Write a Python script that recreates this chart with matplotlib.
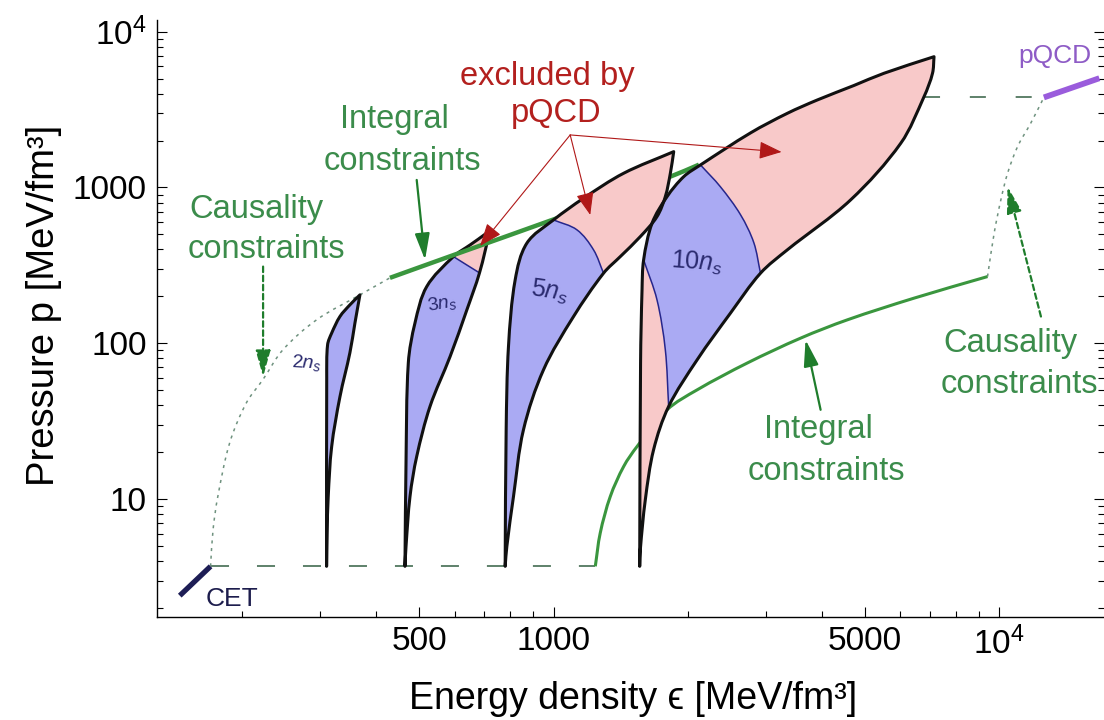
import numpy as np
import matplotlib
matplotlib.use("Agg")
import matplotlib.pyplot as plt
from matplotlib.patches import ArrowStyle, PathPatch
from matplotlib.path import Path
from matplotlib.ticker import FixedLocator, FixedFormatter, NullFormatter

plt.rcParams['font.family'] = ['Liberation Sans', 'DejaVu Sans']
plt.rcParams['mathtext.fontset'] = 'custom'
plt.rcParams['mathtext.rm'] = 'Liberation Sans'
plt.rcParams['mathtext.it'] = 'Liberation Sans:italic'
plt.rcParams['mathtext.bf'] = 'Liberation Sans:bold'

# ---------------- data (energy density eps, pressure p in MeV/fm^3) ----------------
cet_eps = [145, 170]
cet_p = [2.4, 3.7]
pqcd_eps = [12600, 16780]
pqcd_p = [3780, 5020]

# matching pressures carried across the intermediate region
low_dash_eps = [170, 1241]
low_dash_p = [3.7, 3.7]
high_dash_eps = [6783, 12600]
high_dash_p = [3800, 3800]

# causality bounds
caus_lo_eps = [170, 172.2, 176.4, 187.7, 204.6, 222.7, 247.0, 294.0, 367.8, 429.5]
caus_lo_p = [3.7, 6.35, 10.3, 23.0, 41.5, 58.3, 90.7, 141.3, 204.4, 262.8]
caus_hi_eps = [9417, 9745, 10088, 10445, 10998, 11780, 12600]
caus_hi_p = [267.8, 508.4, 831.6, 1233, 1827, 2593, 3780]

# integral constraints
int_up_eps = [429.5, 596.3, 1000, 1829, 2120]
int_up_p = [262.8, 368, 623, 1173, 1400]
int_lo_eps = [1241, 1273, 1341, 1437, 1540, 1798, 2100, 2720, 3584, 4564, 6442, 9417]
int_lo_p = [3.7, 6.05, 10.39, 16.19, 21.75, 37.4, 50.2, 74.6, 107.8, 141.3, 194.7, 267.8]

# allowed regions at fixed baryon density (left / right boundaries, base -> tip)
n2_left_eps = [309.6, 309.8, 311.2, 317.8, 331.7, 349.2, 367.8]
n2_left_p = [3.7, 60, 97.7, 116.1, 148.4, 176.3, 204.4]
n2_right_eps = [309.6, 310.4, 312.2, 317.8, 331.7, 349.2, 358.4, 367.8]
n2_right_p = [3.7, 6.0, 10.35, 21.65, 45.3, 86.8, 134.6, 204.4]

n3_left_eps = [464.2, 466.7, 472.3, 488.9, 519.4, 596.3, 650.1, 708.8, 720.9]
n3_left_p = [3.7, 17.09, 74.9, 135.2, 231.0, 359.8, 427.8, 510.8, 534]
n3_right_eps = [464.2, 466.7, 476.4, 493.2, 528.3, 586.1, 639.1, 682.2, 720.9]
n3_right_p = [3.7, 4.97, 10.39, 18.76, 39.3, 82.2, 163.8, 282.9, 534]
n3_cut_eps = [596.3, 637.6, 682.2]
n3_cut_p = [359.8, 319, 282.9]

n5_left_eps = [779, 783, 792.4, 820.3, 871.3, 1000, 1168, 1437, 1861]
n5_left_p = [3.7, 27.8, 95.2, 255.1, 438.6, 618.6, 852.4, 1233, 1697]
n5_right_eps = [779, 785.8, 813.2, 856.1, 949.5, 1109, 1295, 1412, 1566, 1707, 1782, 1829, 1861]
n5_right_p = [3.7, 4.97, 10.39, 27.8, 67.5, 148.4, 281.6, 359.8, 483.5, 649.6, 873, 1233, 1697]
n5_cut_eps = [1000, 1129, 1230, 1295]
n5_cut_p = [618.6, 534, 397.2, 281.6]

n10_left_eps = [1561, 1568, 1580, 1593, 1664, 1798, 1960, 2137, 2767, 3346, 3908, 4723, 5515, 7143]
n10_left_p = [3.7, 74.9, 220, 342.8, 589.4, 873, 1173, 1394, 2237, 2988, 3641, 4511, 5402, 6902]
n10_right_eps = [1561, 1566, 1607, 1677, 1813, 2100, 2495, 2914, 3346, 4642, 6014, 6783, 7087, 7143]
n10_right_p = [3.7, 4.73, 9.9, 20.7, 39.3, 78.2, 156.1, 281.6, 397.2, 831.6, 1920, 3823, 5402, 6902]
n10_cutL_eps = [1813, 1782, 1707, 1593]
n10_cutL_p = [39.3, 90.7, 189.8, 342.8]
n10_cutR_eps = [2137, 2369, 2628, 2815, 2914]
n10_cutR_p = [1394, 1009, 668, 442, 281.6]

# axis ticks
x_major = [500, 1000, 5000, 10000]
x_major_labels = ['500', '1000', '5000', '$10^4$']
x_minor = [200, 300, 400, 600, 700, 800, 900, 2000, 3000, 4000, 6000, 7000, 8000, 9000]
y_major = [10, 100, 1000, 10000]
y_major_labels = ['10', '100', '1000', '$10^4$']
y_minor = [m * d for d in (1, 10, 100, 1000) for m in range(2, 10)]

# ---------------- styling ----------------
BLUE = '#aaaaf3'
PINK = '#f8c9c9'
NAVY = '#26268c'
GREEN = '#3a963e'
GREEN_DARK = '#1f7d2c'
GREEN_TEXT = '#3b8c4b'
DOT = '#6f927f'
DASH = '#335f42'
RED = '#b01818'
RED_TEXT = '#b3201e'
PURPLE = '#9a5cdc'

fig = plt.figure(figsize=(11.04, 7.2), dpi=100)
ax = fig.add_axes([156.7 / 1104, 1 - 616.7 / 720, (1104 - 156.7) / 1104, (616.7 - 20) / 720])
ax.set_xscale('log')
ax.set_yscale('log')
ax.set_xlim(128.7, 17190)
ax.set_ylim(1.758, 11870)

for side in ('top', 'right'):
    ax.spines[side].set_visible(False)
for side in ('left', 'bottom'):
    ax.spines[side].set_linewidth(1.0)

ax.xaxis.set_major_locator(FixedLocator(x_major))
ax.xaxis.set_major_formatter(FixedFormatter(x_major_labels))
ax.xaxis.set_minor_locator(FixedLocator(x_minor))
ax.xaxis.set_minor_formatter(NullFormatter())
ax.yaxis.set_major_locator(FixedLocator(y_major))
ax.yaxis.set_major_formatter(FixedFormatter(y_major_labels))
ax.yaxis.set_minor_locator(FixedLocator(y_minor))
ax.yaxis.set_minor_formatter(NullFormatter())
ax.tick_params(axis='x', which='both', direction='in', top=False, bottom=True, pad=7)
ax.tick_params(axis='y', which='both', direction='in', left=True, right=True, pad=7)
ax.tick_params(which='major', length=7.2, width=0.8, labelsize=24)
ax.tick_params(which='minor', length=4.3, width=0.8)

# ---------------- smooth curves through the points (cubic Bezier in log space) ----------------
SX, SY = 445.0, 156.0  # pixels per decade, so tangents are taken in screen proportions


def bezier(es, ps):
    P = np.column_stack([np.log10(es) * SX, np.log10(ps) * SY])
    n = len(P)
    T = np.zeros_like(P)
    for i in range(n):
        d = P[min(i + 1, n - 1)] - P[max(i - 1, 0)]
        T[i] = d / np.hypot(*d)
    V = [P[0]]
    for i in range(n - 1):
        L = np.hypot(*(P[i + 1] - P[i]))
        V += [P[i] + T[i] * L / 3, P[i + 1] - T[i + 1] * L / 3, P[i + 1]]
    V = np.array(V)
    return np.column_stack([10 ** (V[:, 0] / SX), 10 ** (V[:, 1] / SY)])


def piece(es, ps, i=0, j=None, reverse=False):
    V = bezier(es, ps)
    j = len(es) - 1 if j is None else j
    S = V[3 * i:3 * j + 1]
    return S[::-1] if reverse else S


def make_path(pieces, close=False):
    verts = [pieces[0][0]]
    for S in pieces:
        verts.extend(S[1:])
    codes = [Path.MOVETO] + [Path.CURVE4] * (len(verts) - 1)
    if close:
        verts.append(verts[0])
        codes.append(Path.CLOSEPOLY)
    return Path(np.array(verts), codes)


def add_fill(path, color, z):
    ax.add_patch(PathPatch(path, facecolor=color, edgecolor='none', lw=0, zorder=z))


def add_line(path, color, lw, z, ls='-', cap='butt'):
    ax.add_patch(PathPatch(path, facecolor='none', edgecolor=color, lw=lw, ls=ls,
                           capstyle=cap, joinstyle='round', zorder=z))


def region(le, lp, re, rp, face, z):
    path = make_path([piece(le, lp), piece(re, rp, reverse=True)], close=True)
    add_fill(path, face, z)
    add_line(path, '#111111', 2.2, z + 0.5, cap='round')


# reference lines
ax.plot(low_dash_eps, low_dash_p, color=DASH, lw=1.1, ls=(0, (11.8, 18.3)), zorder=1)
ax.plot(high_dash_eps, high_dash_p, color=DASH, lw=1.1, ls=(0, (10.5, 19.5)), zorder=1)
add_line(make_path([piece(caus_lo_eps, caus_lo_p)]), DOT, 1.1, 1, ls=(0, (2, 3)))
add_line(make_path([piece(caus_hi_eps, caus_hi_p)]), DOT, 1.1, 1, ls=(0, (2, 3)))

# 2 n_s and 3 n_s
region(n2_left_eps, n2_left_p, n2_right_eps, n2_right_p, BLUE, 2)
region(n3_left_eps, n3_left_p, n3_right_eps, n3_right_p, PINK, 2)
k = n3_left_eps.index(n3_cut_eps[0])
m = n3_right_eps.index(n3_cut_eps[-1])
add_fill(make_path([piece(n3_left_eps, n3_left_p, 0, k), piece(n3_cut_eps, n3_cut_p),
                    piece(n3_right_eps, n3_right_p, 0, m, reverse=True)], close=True), BLUE, 2.1)
add_line(make_path([piece(n3_cut_eps, n3_cut_p)]), NAVY, 1.1, 2.2)

# integral constraints
add_line(make_path([piece(int_up_eps, int_up_p)]), GREEN, 3.2, 3)
add_line(make_path([piece(int_lo_eps, int_lo_p)]), GREEN, 2.2, 3)

# 5 n_s
region(n5_left_eps, n5_left_p, n5_right_eps, n5_right_p, PINK, 4)
k = n5_left_eps.index(n5_cut_eps[0])
m = n5_right_eps.index(n5_cut_eps[-1])
add_fill(make_path([piece(n5_left_eps, n5_left_p, 0, k), piece(n5_cut_eps, n5_cut_p),
                    piece(n5_right_eps, n5_right_p, 0, m, reverse=True)], close=True), BLUE, 4.1)
add_line(make_path([piece(n5_cut_eps, n5_cut_p)]), NAVY, 1.1, 4.2)

# 10 n_s
region(n10_left_eps, n10_left_p, n10_right_eps, n10_right_p, PINK, 4)
a = n10_left_eps.index(n10_cutL_eps[-1])
b = n10_left_eps.index(n10_cutR_eps[0])
c = n10_right_eps.index(n10_cutL_eps[0])
d = n10_right_eps.index(n10_cutR_eps[-1])
add_fill(make_path([piece(n10_cutL_eps, n10_cutL_p),
                    piece(n10_left_eps, n10_left_p, a, b),
                    piece(n10_cutR_eps, n10_cutR_p),
                    piece(n10_right_eps, n10_right_p, c, d, reverse=True)], close=True), BLUE, 4.1)
add_line(make_path([piece(n10_cutL_eps, n10_cutL_p)]), NAVY, 1.1, 4.2)
add_line(make_path([piece(n10_cutR_eps, n10_cutR_p)]), NAVY, 1.1, 4.2)

# low- and high-density limits
ax.plot(cet_eps, cet_p, color='#1d1d55', lw=3.8, solid_capstyle='butt', zorder=5)
ax.plot(pqcd_eps, pqcd_p, color=PURPLE, lw=4.2, solid_capstyle='butt', zorder=5)

# arrows
green_head = ArrowStyle('-|>', head_length=16, head_width=4.5)
red_head = ArrowStyle('-|>', head_length=14, head_width=5.5)


def arrow(tail, tip, style, color, lw, ls='-'):
    ax.annotate('', xy=tip, xytext=tail, zorder=6,
                arrowprops=dict(arrowstyle=style, mutation_scale=1, color=color,
                                lw=lw, ls=ls, shrinkA=0, shrinkB=0))


arrow((493.2, 1117), (514.9, 342.8), green_head, GREEN_DARK, 1.6)
arrow((3975, 37.4), (3678, 105.1), green_head, GREEN_DARK, 1.6)
arrow((223.0, 310.5), (223.0, 60.9), green_head, GREEN_DARK, 1.6, (0, (2.5, 1.6)))
arrow((12410, 148.4), (10445, 1012), green_head, GREEN_DARK, 1.6, (0, (2.5, 1.6)))

red_origin = (1090, 2172)
for tip in [(684.4, 421.5), (1209, 666), (3249, 1689)]:
    arrow(red_origin, tip, red_head, RED, 0.8)


# labels
def label(x, y, s, color, size, ha='center', va='baseline', rot=0):
    ax.text(x, y, s, color=color, fontsize=size, ha=ha, va=va, rotation=rot,
            rotation_mode='anchor', zorder=7)


label(215.6, 634.4, 'Causality', GREEN_TEXT, 23.5)
label(227.0, 351.6, 'constraints', GREEN_TEXT, 23.5)
label(438.5, 2397, 'Integral', GREEN_TEXT, 23.5)
label(458.3, 1295, 'constraints', GREEN_TEXT, 23.5)
label(3924, 24.6, 'Integral', GREEN_TEXT, 23.5)
label(4096, 13.3, 'constraints', GREEN_TEXT, 23.5)
label(10624, 88.5, 'Causality', GREEN_TEXT, 23.5)
label(11090, 47.9, 'constraints', GREEN_TEXT, 23.5)
label(970.4, 4545, 'excluded by', RED_TEXT, 23.5)
label(1013, 2643, 'pQCD', RED_TEXT, 23.5)
label(13340, 6260, 'pQCD', '#8e5cc6', 19)
label(190.2, 2.05, 'CET', '#1d1d4d', 19)
label(279.2, 74.9, r'$2n_s$', '#2a2a6e', 14, va='center', rot=-3)
label(561.4, 180.8, r'$3n_s$', '#2a2a6e', 14, va='center', rot=10)
label(983.1, 214.6, r'$5n_s$', '#2a2a6e', 18, va='center', rot=-8)
label(2100, 326.4, r'$10n_s$', '#2a2a6e', 18, va='center', rot=-4)

fig.text(633 / 1104, 1 - 709 / 720, 'Energy density ϵ [MeV/fm³]', fontsize=27,
         ha='center', va='baseline')
fig.text(54 / 1104, 1 - 305 / 720, 'Pressure p [MeV/fm³]', fontsize=27.5,
         rotation=90, rotation_mode='anchor', ha='center', va='baseline')

fig.savefig('out.png', dpi=100)
